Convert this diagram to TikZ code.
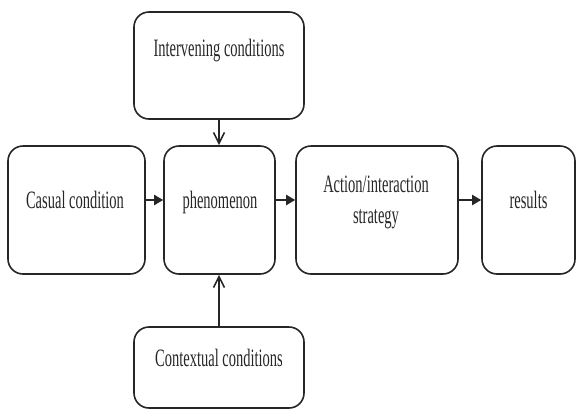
\documentclass[tikz,border=0pt]{standalone}
\usepackage{fontspec}
\setmainfont{Liberation Serif}[FakeStretch=0.58]
\usetikzlibrary{arrows.meta}
\begin{document}
\begin{tikzpicture}[x=1pt,y=-1pt,
  box/.style={draw=black!85,line width=1.6pt,rounded corners=15pt,inner sep=0pt},
  lbl/.style={anchor=base,inner sep=0pt,text=black!85,font=\fontsize{25}{31}\selectfont,align=center},
  harrow/.style={draw=black!85,line width=1.9pt,-{Triangle[length=9pt,width=10pt]}},
  varrow/.style={draw=black!85,line width=1.6pt,-{Straight Barb[length=11pt,width=11pt,line width=1.6pt]}}]
\useasboundingbox (0,0) rectangle (577,410);

% boxes
\node[box,minimum width=170pt,minimum height=107pt] (inter)   at (219,65.5)   {};
\node[box,minimum width=137pt,minimum height=128pt] (casual)  at (76.5,210)   {};
\node[box,minimum width=111pt,minimum height=128pt] (phen)    at (219.5,210)  {};
\node[box,minimum width=162pt,minimum height=128pt] (action)  at (377,210)    {};
\node[box,minimum width=93pt,minimum height=128pt]  (results) at (528.5,210)  {};
\node[box,minimum width=170pt,minimum height=81pt]  (context) at (219,367.5)  {};

% labels (a two-line label sits on the baseline of its last line)
\node[lbl] (tinter)   at (219,56)    {Intervening conditions};
\node[lbl] (tcasual)  at (75,208)    {Casual condition};
\node[lbl] (tphen)    at (220,208)   {phenomenon};
\node[lbl] (taction)  at (376,223)   {Action/interaction\\strategy};
\node[lbl] (tresults) at (528.5,208) {results};
\node[lbl] (tcontext) at (219,366)   {Contextual conditions};

% connectors
\draw[harrow] ([yshift=10pt]casual.east) -- ([yshift=10pt]phen.west);
\draw[harrow] ([yshift=10pt]phen.east)   -- ([yshift=10pt]action.west);
\draw[harrow] ([yshift=10pt]action.east) -- ([yshift=10pt]results.west);
\draw[varrow] (inter.south)   -- (phen.north -| inter.south);
\draw[varrow] (context.north) -- (phen.south -| context.north);
\end{tikzpicture}
\end{document}
